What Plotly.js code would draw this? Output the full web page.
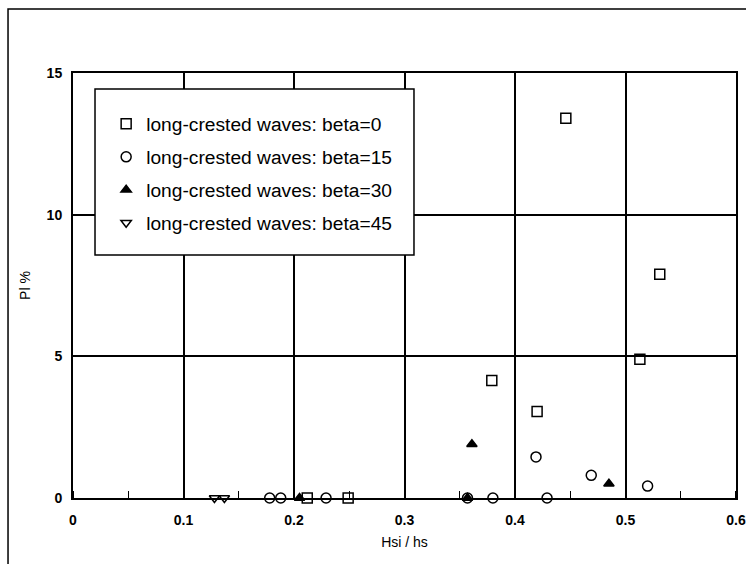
<!DOCTYPE html>
<html>
<head>
<meta charset="utf-8">
<script src="https://cdn.plot.ly/plotly-3.0.1.min.js"></script>
<style>html,body{margin:0;padding:0;background:#fff;}#chart{width:746px;height:564px;}</style>
</head>
<body>
<div id="chart"></div>
<script>
// beta = 0
const x_beta0 = [0.212, 0.249, 0.379, 0.420, 0.446, 0.513, 0.531];
const y_beta0 = [0, 0, 4.15, 3.05, 13.4, 4.9, 7.9];
// beta = 15
const x_beta15 = [0.178, 0.188, 0.229, 0.357, 0.380, 0.419, 0.429, 0.469, 0.520];
const y_beta15 = [0, 0, 0, 0, 0, 1.45, 0, 0.8, 0.42];
// beta = 30
const x_beta30 = [0.205, 0.357, 0.361, 0.485];
const y_beta30 = [0, 0, 1.9, 0.5];
// beta = 45
const x_beta45 = [0.128, 0.137];
const y_beta45 = [0, 0];

const names = [
  'long-crested waves: beta=0',
  'long-crested waves: beta=15',
  'long-crested waves: beta=30',
  'long-crested waves: beta=45'
];
const xTickVals = [0, 0.1, 0.2, 0.3, 0.4, 0.5, 0.6];
const xTickText = ['0', '0.1', '0.2', '0.3', '0.4', '0.5', '0.6'];
const yTickVals = [0, 5, 10, 15];
const yTickText = ['0', '5', '10', '15'];

const mk = (sym, size) => ({symbol: sym, size: size, color: 'black', line: {color: 'black', width: 1.5}});

const traces = [
  {x: x_beta0, y: y_beta0, name: names[0], legendgroup: 'a', mode: 'markers', type: 'scatter', cliponaxis: false, marker: mk('square-open', 10)},
  {x: x_beta15, y: y_beta15, name: names[1], legendgroup: 'b', mode: 'markers', type: 'scatter', cliponaxis: false, marker: mk('circle-open', 10)},
  {x: x_beta30, y: y_beta30, name: names[2], legendgroup: 'c', mode: 'markers', type: 'scatter', cliponaxis: false, marker: mk('triangle-up', 9)},
  {x: x_beta45, y: y_beta45, name: names[3], legendgroup: 'd', mode: 'markers', type: 'scatter', cliponaxis: false, marker: mk('triangle-down-open', 9)}
];

const tickFont = {family: 'Liberation Sans, Arial, sans-serif', size: 14, color: 'black', weight: 'bold'};

const layout = {
  width: 746, height: 564,
  margin: {l: 73, r: 10, t: 73, b: 66},
  paper_bgcolor: 'white', plot_bgcolor: 'white',
  font: {family: 'Liberation Sans, Arial, sans-serif', color: 'black'},
  showlegend: true,
  legend: {
    x: 0.05, xanchor: 'left', y: 0.925, yanchor: 'top',
    bgcolor: 'rgba(0,0,0,0)', borderwidth: 0,
    font: {size: 19.2, color: 'black'},
    tracegroupgap: 5, itemwidth: 30
  },
  xaxis: {
    range: [0, 0.6], tickvals: xTickVals, ticktext: xTickText,
    showgrid: true, gridcolor: 'black', gridwidth: 2,
    showline: true, linecolor: 'black', linewidth: 2, mirror: true,
    ticks: '', zeroline: false, tickfont: tickFont, ticklabelstandoff: 8,
    minor: {dtick: 0.05, tick0: 0.05, ticks: 'inside', ticklen: 7, tickcolor: 'black', tickwidth: 1.2, showgrid: false},
    title: {text: 'Hsi / hs', font: {size: 14, color: 'black'}, standoff: 10}
  },
  yaxis: {
    range: [0, 15], tickvals: yTickVals, ticktext: yTickText,
    showgrid: true, gridcolor: 'black', gridwidth: 2,
    showline: true, linecolor: 'black', linewidth: 2, mirror: true,
    ticks: '', zeroline: false, tickfont: tickFont, ticklabelstandoff: 6,
    title: {text: 'Pl %', font: {size: 14, color: 'black'}, standoff: 13}
  },
  shapes: [
    {type: 'rect', xref: 'paper', yref: 'paper', x0: 0.0332, x1: 0.5143, y0: 0.5718, y1: 0.9624,
     fillcolor: 'white', line: {color: 'black', width: 1.5}, layer: 'above'},
    {type: 'rect', xref: 'paper', yref: 'paper', x0: -0.098, x1: 1.05, y0: -0.17, y1: 1.1506,
     fillcolor: 'rgba(0,0,0,0)', line: {color: 'black', width: 1.5}, layer: 'above'}
  ]
};

Plotly.newPlot('chart', traces, layout, {displayModeBar: false, staticPlot: true});
</script>
</body>
</html>
